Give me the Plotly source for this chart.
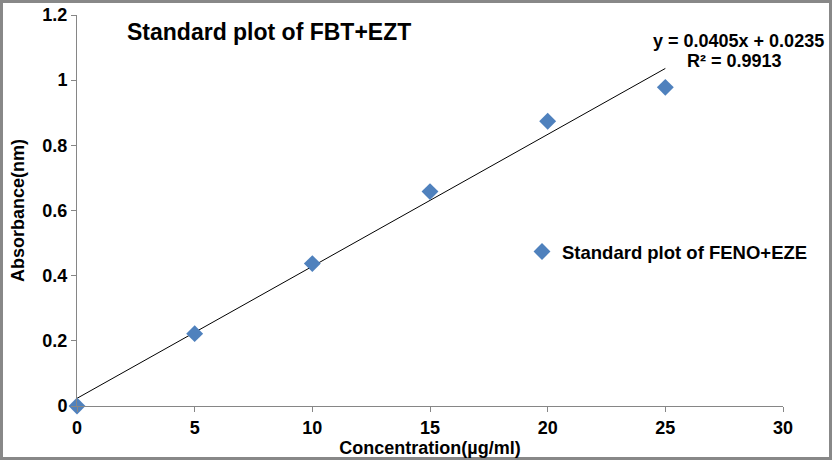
import plotly.graph_objects as go

concentration = [0, 5, 10, 15, 20, 25]
absorbance = [0.0, 0.222, 0.437, 0.658, 0.874, 0.978]
slope = 0.0405
intercept = 0.0235
x_ticks = [0, 5, 10, 15, 20, 25, 30]
y_ticks = [0, 0.2, 0.4, 0.6, 0.8, 1, 1.2]
y_tick_text = ["0", "0.2", "0.4", "0.6", "0.8", "1", "1.2"]

W, H = 833, 461
ml, mr, mt, mb = 77, 50, 15, 55
pw, ph = W - ml - mr, H - mt - mb

trend_x = [concentration[0], concentration[-1]]
trend_y = [slope * v + intercept for v in trend_x]

font = dict(family="Liberation Sans, Arial, sans-serif", color="black")

fig = go.Figure()
fig.add_trace(go.Scatter(
    x=trend_x, y=trend_y, mode="lines",
    line=dict(color="black", width=1), showlegend=False, hoverinfo="skip"))
fig.add_trace(go.Scatter(
    x=concentration, y=absorbance, mode="markers",
    marker=dict(symbol="diamond", size=13, color="#4F81BD"),
    name="<b>Standard plot of FENO+EZE</b>", cliponaxis=False))

def px(xp):
    return (xp - ml) / pw

def py(yp):
    return (H - mb - yp) / ph

fig.update_layout(
    width=W, height=H,
    margin=dict(l=ml, r=mr, t=mt, b=mb, autoexpand=False),
    paper_bgcolor="white", plot_bgcolor="white",
    font=dict(size=18, **font),
    showlegend=True,
    legend=dict(x=px(522), y=py(252), xanchor="left", yanchor="middle",
                font=dict(size=18.5, **font), bgcolor="rgba(0,0,0,0)",
                itemwidth=30, tracegroupgap=0),
    xaxis=dict(range=[0, 30], tickvals=x_ticks,
               ticktext=["<b>%d</b>" % v for v in x_ticks],
               ticks="outside", ticklen=5,
               tickcolor="#868686", showline=True, linecolor="#868686",
               linewidth=1, showgrid=False, zeroline=False,
               tickfont=dict(size=18, **font), automargin=False,
               title=dict(text="<b>Concentration(µg/ml)</b>", standoff=0,
                          font=dict(size=18, **font))),
    yaxis=dict(range=[0, 1.2], tickvals=y_ticks,
               ticktext=["<b>%s</b>" % t for t in y_tick_text],
               ticks="outside", ticklen=5, tickcolor="#868686", showline=True,
               linecolor="#868686", linewidth=1, showgrid=False, zeroline=False,
               tickfont=dict(size=18, **font), automargin=False,
               title=dict(text="<b>Absorbance(nm)</b>", standoff=13,
                          font=dict(size=18, **font))),
    shapes=[dict(type="rect", xref="paper", yref="paper",
                 x0=px(1.5), x1=px(830.5), y0=py(458.5), y1=py(1.5),
                 line=dict(color="#888888", width=3), fillcolor="rgba(0,0,0,0)")],
    annotations=[
        dict(text="<b>Standard plot of FBT+EZT</b>", xref="paper", yref="paper",
             x=px(125), y=py(32), xanchor="left", yanchor="middle",
             showarrow=False, font=dict(size=23, **font)),
        dict(text="<b>y = 0.0405x + 0.0235</b>", xref="paper", yref="paper",
             x=px(826), y=py(41), xanchor="right", yanchor="middle",
             showarrow=False, font=dict(size=18, **font)),
        dict(text="<b>R² = 0.9913</b>", xref="paper", yref="paper",
             x=px(784), y=py(61), xanchor="right", yanchor="middle",
             showarrow=False, font=dict(size=18, **font)),
    ],
)

fig.write_html("out.html", config={"displayModeBar": False},
               post_script="document.body.style.margin='0';document.body.style.overflow='hidden';")
